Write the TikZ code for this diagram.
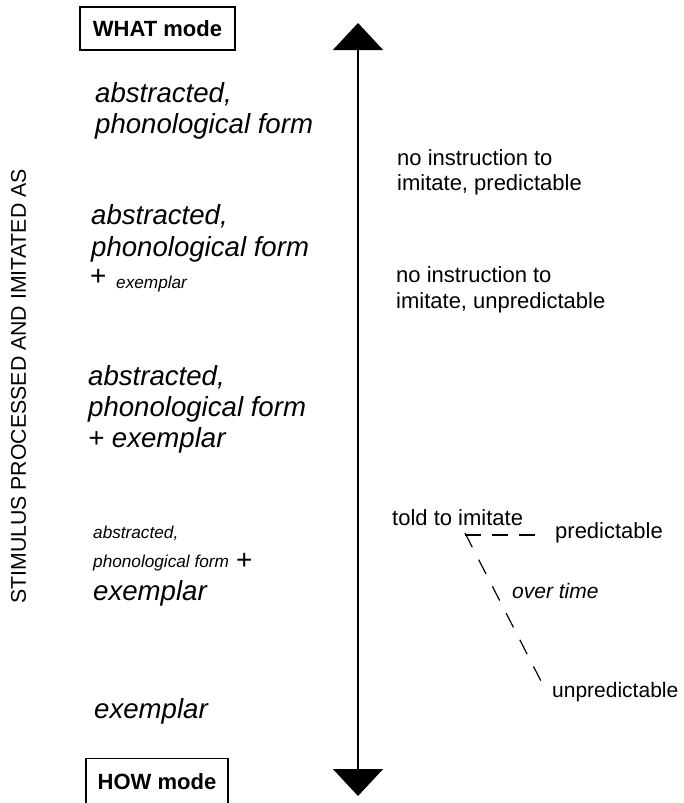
\documentclass[tikz,border=0pt]{standalone}
\usepackage{fontspec}
\setmainfont{Liberation Sans}
\usetikzlibrary{arrows.meta}
\tikzset{
  big/.style={font=\fontsize{27.6}{32}\selectfont\itshape, anchor=base west, inner sep=0pt},
  small/.style={font=\fontsize{17.2}{20}\selectfont\itshape, anchor=base west, inner sep=0pt},
  plus/.style={font=\fontsize{28}{32}\selectfont, anchor=base west, inner sep=0pt},
  plain/.style={font=\fontsize{22}{26}\selectfont, anchor=base west, inner sep=0pt},
  ital/.style={font=\fontsize{21}{26}\selectfont\itshape, anchor=base west, inner sep=0pt},
  modebox/.style={draw, line width=1.2pt, font=\fontsize{22}{26}\selectfont\bfseries, inner sep=0pt},
  dashA/.style={line width=1.2pt, dash pattern=on 16pt off 11pt},
  dashB/.style={line width=1.2pt, dash pattern=on 16pt off 14pt},
  axis/.style={line width=1.5pt, {Triangle[width=50pt,length=27pt]}-{Triangle[width=50pt,length=27pt]}}
}
\begin{document}
\begin{tikzpicture}[x=1pt,y=-1pt]
\useasboundingbox (0,0) rectangle (683,803);
% mode boxes
\node[modebox, minimum width=155pt, minimum height=43pt] (what) at (157.5,28.5) {WHAT mode};
\node[modebox, minimum width=142pt, minimum height=47pt, anchor=north] (how) at (157,758) {HOW mode};
% axis
\coordinate (top) at (358,23);
\coordinate (bot) at (358,796);
\draw[axis] (bot) -- (top);
% side label
\node[font=\fontsize{21.3}{24}\selectfont, rotate=90, inner sep=0pt] (side) at (18.5,386.5) {STIMULUS PROCESSED AND IMITATED AS};
% block 1
\node[big] (b1a) at (95,102) {abstracted,};
\node[big] (b1b) at (95,133) {phonological form};
% block 2
\node[big] (b2a) at (91,224) {abstracted,};
\node[big] (b2b) at (91,256) {phonological form};
\node[plus] (b2p) at (90,285) {+};
\node[small] (b2c) at (116,288) {exemplar};
% block 3
\node[big] (b3a) at (88,385) {abstracted,};
\node[big] (b3b) at (88,416) {phonological form};
\node[big] (b3c) at (88,447) {+ exemplar};
% block 4
\node[small] (b4a) at (93,538) {abstracted,};
\node[small] (b4b) at (93,567) {phonological form};
\node[plus] (b4p) at (236,569) {+};
\node[big] (b4c) at (93,600) {exemplar};
% block 5
\node[big] (b5) at (94,718) {exemplar};
% right texts
\node[plain] (r1a) at (397,165) {no instruction to};
\node[plain] (r1b) at (397,190) {imitate, predictable};
\node[plain] (r2a) at (396,282) {no instruction to};
\node[plain] (r2b) at (396,308) {imitate, unpredictable};
\node[plain] (told) at (392,525) {told to imitate};
\node[plain] (pred) at (555,538) {predictable};
\node[ital] (time) at (512,598) {over time};
\node[plain, font=\fontsize{21}{26}\selectfont] (unpred) at (552,697) {unpredictable};
% dashed connectors
\coordinate (fork) at (465,535);
\coordinate (predend) at (541,535);
\coordinate (unpredend) at (543,685);
\draw[dashA] (fork) -- (predend);
\draw[dashB] ([yshift=2pt]fork) -- (unpredend);
\end{tikzpicture}
\end{document}
